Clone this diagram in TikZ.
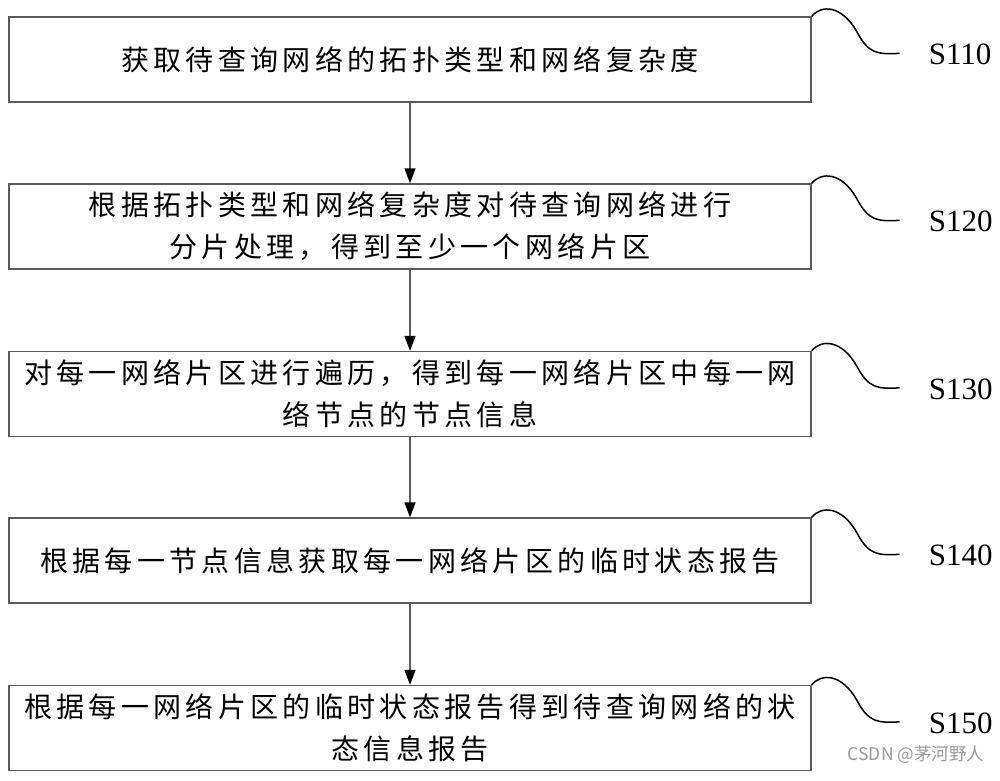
\documentclass[tikz,border=0pt]{standalone}
\usepackage{fontspec}
\setmainfont{Liberation Serif}
\newfontfamily\cjk[LetterSpace=15.5]{Noto Sans CJK SC}
\newfontfamily\wmfont{Noto Sans CJK SC}
\usetikzlibrary{arrows.meta,calc}
\begin{document}
\begin{tikzpicture}[x=1pt,y=-1pt,
 stepbox/.style={draw=black!65,line width=1.3pt,minimum width=802pt,minimum height=85pt,inner sep=0pt,align=center,font=\cjk\fontsize{28}{42}\selectfont},
 flow/.style={draw=black!65,line width=1.3pt,-{Triangle[length=15pt,width=11pt,color=black,fill=black]}},
 squig/.style={draw=black,line width=1.5pt},
 steplabel/.style={anchor=west,font=\fontsize{31}{31}\selectfont,inner sep=0pt},
 watermark/.style={font=\wmfont\fontsize{17.5}{17.5}\selectfont,text=black!40,inner sep=0pt}]
\useasboundingbox (0,0) rectangle (1000,780);
\fill[white] (0,0) rectangle (1000,780);
\node[stepbox] (b1) at (410,59.5) {获取待查询网络的拓扑类型和网络复杂度};
\node[stepbox] (b2) at (410,226.5) {根据拓扑类型和网络复杂度对待查询网络进行\\分片处理，得到至少一个网络片区};
\node[stepbox] (b3) at (410,394) {对每一网络片区进行遍历，得到每一网络片区中每一网\\络节点的节点信息};
\node[stepbox] (b4) at (410,560.5) {根据每一节点信息获取每一网络片区的临时状态报告};
\node[stepbox] (b5) at (410,728) {根据每一网络片区的临时状态报告得到待查询网络的状\\态信息报告};
\foreach \a/\b in {b1/b2,b2/b3,b3/b4,b4/b5} {\draw[flow] (\a.south) -- (\b.north);}
\foreach \i in {1,...,5} {
  \draw[squig] (b\i.north east) .. controls ($(b\i.north east)+(10,-12)$) and ($(b\i.north east)+(30,-11)$) .. ($(b\i.north east)+(45,15)$) .. controls ($(b\i.north east)+(57,38)$) and ($(b\i.north east)+(66,38)$) .. ($(b\i.north east)+(88,37)$) coordinate (e\i);
}
\node[steplabel] (l1) at ($(e1)+(29,1)$) {S110};
\node[steplabel] (l2) at ($(e2)+(29,1)$) {S120};
\node[steplabel] (l3) at ($(e3)+(29,1)$) {S130};
\node[steplabel] (l4) at ($(e4)+(29,1)$) {S140};
\node[steplabel] (l5) at ($(e5)+(29,1)$) {S150};
\node[watermark] (wm) at (916,755) {CSDN @茅河野人};
\end{tikzpicture}
\end{document}
